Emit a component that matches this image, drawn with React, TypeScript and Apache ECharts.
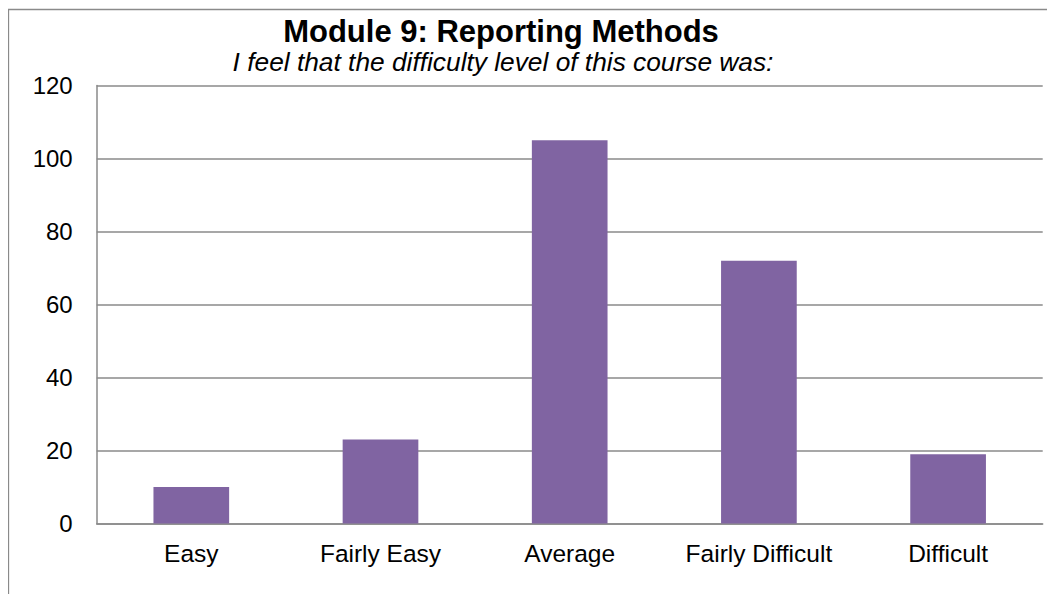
import React, { useEffect, useRef } from "react";
import * as echarts from "echarts";

const categories = ["Easy", "Fairly Easy", "Average", "Fairly Difficult", "Difficult"];
const responses = [10, 23, 105, 72, 19];
const yMin = 0;
const yMax = 120;
const yStep = 20;
const titleText = "Module 9: Reporting Methods";
const subtitleText = "I feel that the difficulty level of this course was:";

const FONT = "'Liberation Sans', Arial, sans-serif";

export default function App() {
  const ref = useRef<HTMLDivElement>(null);
  useEffect(() => {
    if (!ref.current) return;
    const chart = echarts.init(ref.current, undefined, { renderer: "svg" });
    chart.setOption({
      animation: false,
      backgroundColor: "#ffffff",
      grid: { left: 88.7, top: 77.5, right: 12.3, bottom: 70.5, containLabel: false },
      graphic: [
        {
          type: "rect",
          shape: { x: 0.5, y: 1.5, width: 1200, height: 800 },
          style: { fill: "none", stroke: "#8a8a8a", lineWidth: 1.3 },
          silent: true,
          z: -10,
        },
        {
          type: "text",
          x: 493,
          y: 23,
          style: {
            text: titleText,
            font: `bold 31px ${FONT}`,
            fill: "#000000",
            textAlign: "center",
            textVerticalAlign: "middle",
          },
        },
        {
          type: "text",
          x: 495,
          y: 54,
          style: {
            text: subtitleText,
            font: `italic 26.3px ${FONT}`,
            fill: "#000000",
            textAlign: "center",
            textVerticalAlign: "middle",
          },
        },
      ],
      xAxis: {
        type: "category",
        data: categories,
        axisLine: { show: true, lineStyle: { color: "#8a8a8a", width: 1.5 } },
        axisTick: { show: false },
        axisLabel: { color: "#000000", fontSize: 24.5, fontFamily: FONT, margin: 17, interval: 0, hideOverlap: false },
        splitLine: { show: false },
      },
      yAxis: {
        type: "value",
        min: yMin,
        max: yMax,
        interval: yStep,
        axisLine: { show: true, lineStyle: { color: "#8a8a8a", width: 1.5 } },
        axisTick: { show: false },
        axisLabel: { color: "#000000", fontSize: 24, fontFamily: FONT, margin: 24 },
        splitLine: { show: true, lineStyle: { color: "#8a8a8a", width: 1.5 } },
      },
      series: [
        {
          type: "bar",
          data: responses,
          barCategoryGap: "60%",
          itemStyle: { color: "#8064A2" },
        },
      ],
    });
    return () => chart.dispose();
  }, []);
  return <div ref={ref} style={{ width: 1047, height: 586 }} />;
}
